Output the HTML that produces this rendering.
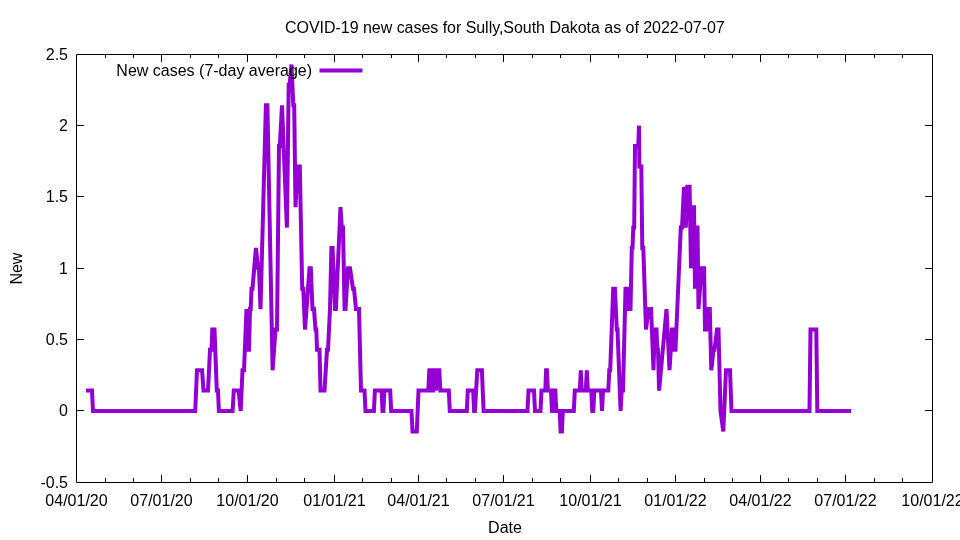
<!DOCTYPE html>
<html><head><meta charset="utf-8"><style>
html,body{margin:0;padding:0;background:#fff;width:960px;height:540px;overflow:hidden}
svg{display:block;will-change:transform}
text{font-family:"Liberation Sans",sans-serif;font-size:16px;fill:#000}
</style></head><body>
<svg width="960" height="540" viewBox="0 0 960 540">
<rect width="960" height="540" fill="#fff"/>
<path d="M76.5,54.5H932.5V482.5H76.5Z" fill="none" stroke="#000" stroke-width="1"/>
<path d="M77,54.5h7M932,54.5h-7M77,125.5h7M932,125.5h-7M77,196.5h7M932,196.5h-7M77,268.5h7M932,268.5h-7M77,339.5h7M932,339.5h-7M77,410.5h7M932,410.5h-7M77,482.5h7M932,482.5h-7M76.5,482v-7M76.5,55v7M161.5,482v-7M161.5,55v7M247.5,482v-7M247.5,55v7M334.5,482v-7M334.5,55v7M418.5,482v-7M418.5,55v7M503.5,482v-7M503.5,55v7M590.5,482v-7M590.5,55v7M675.5,482v-7M675.5,55v7M760.5,482v-7M760.5,55v7M845.5,482v-7M845.5,55v7M932.5,482v-7M932.5,55v7M105.5,482v-4M105.5,55v3M133.5,482v-4M133.5,55v3M190.5,482v-4M190.5,55v3M218.5,482v-4M218.5,55v3M276.5,482v-4M276.5,55v3M304.5,482v-4M304.5,55v3M362.5,482v-4M362.5,55v3M391.5,482v-4M391.5,55v3M446.5,482v-4M446.5,55v3M475.5,482v-4M475.5,55v3M532.5,482v-4M532.5,55v3M560.5,482v-4M560.5,55v3M618.5,482v-4M618.5,55v3M647.5,482v-4M647.5,55v3M704.5,482v-4M704.5,55v3M732.5,482v-4M732.5,55v3M788.5,482v-4M788.5,55v3M817.5,482v-4M817.5,55v3M874.5,482v-4M874.5,55v3M902.5,482v-4M902.5,55v3" fill="none" stroke="#000" stroke-width="1"/>
<text x="68" y="60" text-anchor="end">2.5</text>
<text x="68" y="131" text-anchor="end">2</text>
<text x="68" y="202" text-anchor="end">1.5</text>
<text x="68" y="274" text-anchor="end">1</text>
<text x="68" y="345" text-anchor="end">0.5</text>
<text x="68" y="416" text-anchor="end">0</text>
<text x="68" y="488" text-anchor="end">-0.5</text>
<text x="76.5" y="506" text-anchor="middle">04/01/20</text>
<text x="161.5" y="506" text-anchor="middle">07/01/20</text>
<text x="247.5" y="506" text-anchor="middle">10/01/20</text>
<text x="334.5" y="506" text-anchor="middle">01/01/21</text>
<text x="418.5" y="506" text-anchor="middle">04/01/21</text>
<text x="503.5" y="506" text-anchor="middle">07/01/21</text>
<text x="590.5" y="506" text-anchor="middle">10/01/21</text>
<text x="675.5" y="506" text-anchor="middle">01/01/22</text>
<text x="760.5" y="506" text-anchor="middle">04/01/22</text>
<text x="845.5" y="506" text-anchor="middle">07/01/22</text>
<text x="932.5" y="506" text-anchor="middle">10/01/22</text>
<text x="504.9" y="33" text-anchor="middle" textLength="439.7" lengthAdjust="spacing">COVID-19 new cases for Sully,South Dakota as of 2022-07-07</text>
<text x="505" y="533" text-anchor="middle">Date</text>
<text transform="translate(22,268.6) rotate(-90)" text-anchor="middle">New</text>
<path d="M319.5,70.5H362.5" stroke="#9400d3" stroke-width="4"/>
<path d="M86.00,390.62L92.00,390.62L93.00,411.00L195.20,411.00L197.00,370.24L202.10,370.24L203.50,390.62L208.00,390.62L210.00,349.86L211.50,349.86L212.30,329.48L214.50,329.48L216.80,390.62L218.00,390.62L218.90,411.00L232.60,411.00L233.80,390.62L238.60,390.62L240.70,411.00L242.50,370.24L244.00,370.24L246.50,309.10L247.50,349.86L249.00,349.86L250.00,309.10L250.70,309.10L251.50,288.72L252.50,288.72L255.90,247.96L258.20,268.34L259.00,268.34L260.50,309.10L265.90,105.30L267.40,105.30L272.60,370.24L275.50,329.48L277.00,329.48L279.00,146.06L279.80,146.06L282.00,105.30L286.90,227.58L288.70,84.92L289.50,84.92L291.50,64.54L293.30,105.30L294.20,105.30L295.50,207.20L297.50,166.44L299.80,166.44L302.20,288.72L303.30,288.72L305.00,329.48L309.50,268.34L310.80,268.34L312.50,309.10L314.00,309.10L315.50,329.48L316.30,329.48L317.00,349.86L319.50,349.86L320.50,390.62L324.50,390.62L327.00,349.86L328.00,349.86L330.00,309.10L331.40,247.96L332.60,247.96L335.00,309.10L335.90,309.10L340.50,207.20L341.80,227.58L343.00,227.58L344.60,309.10L345.50,309.10L348.00,268.34L350.00,268.34L353.00,288.72L354.00,288.72L356.00,309.10L359.00,309.10L361.00,390.62L364.50,390.62L365.50,411.00L373.90,411.00L374.90,390.62L381.60,390.62L382.50,411.00L383.40,411.00L384.30,390.62L390.20,390.62L391.20,411.00L411.50,411.00L412.50,431.38L416.80,431.38L418.50,390.62L428.30,390.62L429.30,370.24L430.40,370.24L431.40,390.62L433.00,390.62L433.90,370.24L434.90,370.24L435.90,390.62L437.00,370.24L439.30,370.24L440.30,390.62L448.80,390.62L449.80,411.00L466.80,411.00L467.80,390.62L473.20,390.62L474.10,411.00L474.90,411.00L477.30,370.24L481.90,370.24L483.60,411.00L527.50,411.00L528.50,390.62L534.00,390.62L535.00,411.00L540.50,411.00L541.50,390.62L545.30,390.62L546.10,370.24L546.90,370.24L547.90,390.62L551.00,390.62L552.00,411.00L553.40,411.00L554.40,390.62L555.30,390.62L556.30,411.00L559.70,411.00L560.60,431.38L561.90,431.38L562.80,411.00L573.80,411.00L574.80,390.62L579.80,390.62L580.80,370.24L581.80,390.62L585.80,390.62L586.80,370.24L587.80,390.62L591.30,390.62L592.30,411.00L593.30,411.00L594.30,390.62L601.00,390.62L602.00,411.00L603.00,390.62L608.30,390.62L609.30,370.24L610.20,370.24L613.20,288.72L614.90,288.72L616.80,329.48L617.50,329.48L620.60,411.00L621.70,390.62L623.00,390.62L625.50,288.72L627.00,288.72L628.30,309.10L630.50,309.10L631.80,247.96L632.50,247.96L633.30,227.58L634.20,227.58L635.00,146.06L638.30,146.06L639.00,125.68L639.40,166.44L641.30,166.44L642.30,247.96L643.30,247.96L646.00,329.48L648.60,309.10L651.10,309.10L653.50,370.24L654.70,329.48L656.50,329.48L657.30,349.86L658.00,349.86L659.10,390.62L666.50,309.10L669.50,370.24L672.00,329.48L673.00,329.48L674.00,349.86L675.50,349.86L680.80,227.58L682.00,227.58L684.00,186.82L685.80,227.58L687.30,186.82L689.60,186.82L691.00,268.34L693.00,207.20L694.00,207.20L695.00,288.72L696.50,227.58L697.50,227.58L698.50,309.10L701.40,268.34L704.10,268.34L705.00,329.48L706.30,329.48L707.30,309.10L709.80,309.10L711.30,370.24L713.50,349.86L714.50,349.86L717.00,329.48L718.50,329.48L720.50,411.00L723.30,431.38L726.00,370.24L730.00,370.24L731.50,411.00L809.50,411.00L810.50,329.48L816.30,329.48L817.30,411.00L851.00,411.00" fill="none" stroke="#9400d3" stroke-width="4" stroke-linejoin="miter" stroke-miterlimit="10"/>
<text x="312" y="75.5" text-anchor="end">New cases (7-day average)</text>
</svg></body></html>
